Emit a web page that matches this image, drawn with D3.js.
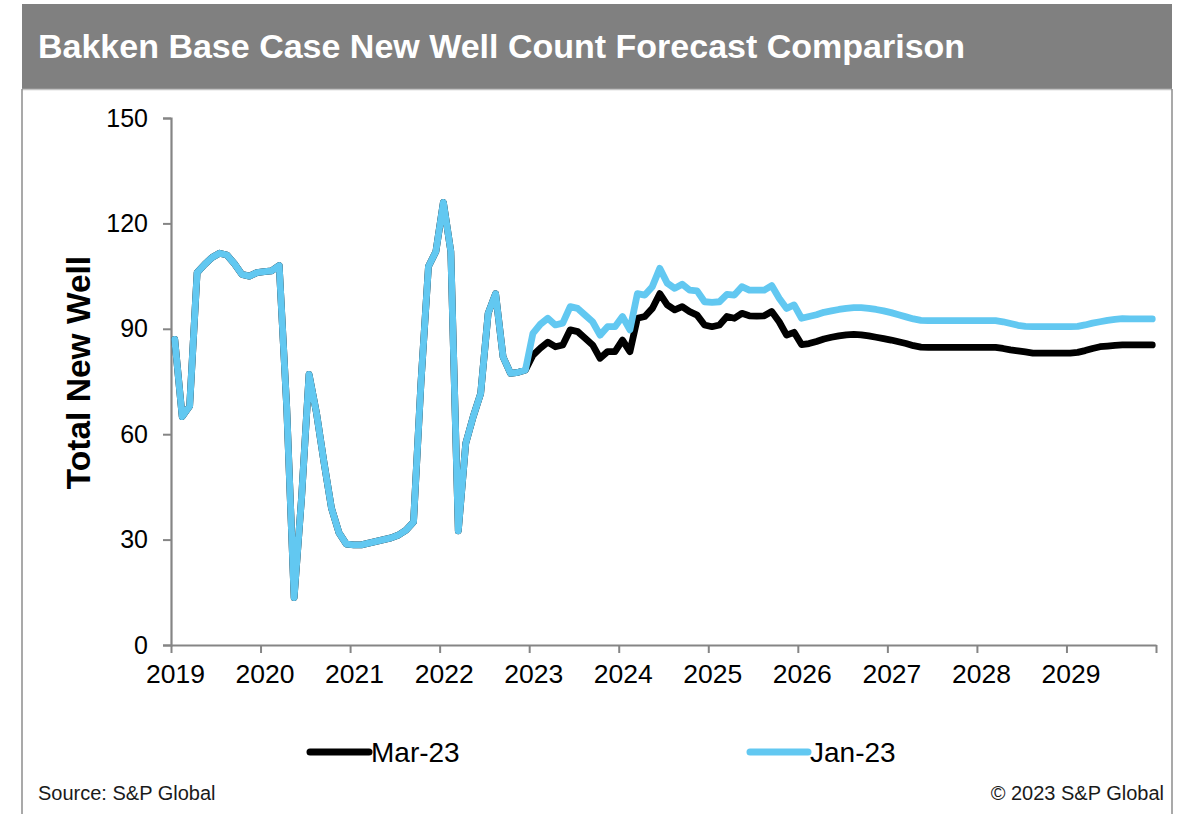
<!DOCTYPE html>
<html>
<head>
<meta charset="utf-8">
<script src="https://cdn.jsdelivr.net/npm/d3@7"></script>
<style>
  html, body { margin: 0; padding: 0; background: #ffffff; }
  svg { display: block; }
  text { font-family: "Liberation Sans", Arial, sans-serif; }
</style>
</head>
<body>
<svg id="chart" width="1193" height="814"></svg>
<script>
// Monthly new well counts, Jan 2019 through Dec 2029 (132 months).
// History (Jan 2019 – Dec 2022) is common to both forecast vintages.
const history = [
  87, 65, 68, 106, 108.3, 110.3, 111.5, 111, 108.5, 105.5, 105, 106,
  106.3, 106.5, 108, 68, 13.5, 42, 77, 66, 52, 39, 32, 28.7,
  28.5, 28.5, 29, 29.5, 30, 30.5, 31.3, 32.7, 35, 74.7, 107.7, 112,
  126, 112, 32.5, 57.4, 65, 71.6, 94.4, 100, 82, 77.3, 77.6, 78.3
];

// Jan-23 forecast, Jan 2023 – Dec 2029
const jan23Forecast = [
  88.7, 91.3, 93, 91.1, 91.6, 96.3, 95.8, 93.9, 92, 88.2, 90.6, 90.6,
  93.5, 89.7, 100, 99.6, 102, 107.2, 103, 101.5, 102.7, 101, 100.8, 97.7,
  97.5, 97.7, 99.8, 99.6, 102, 101, 101, 101, 102.3, 98.7, 95.8, 96.8,
  93, 93.5, 94, 94.7, 95.1, 95.5, 95.8, 96, 96, 95.8, 95.5, 95.1,
  94.6, 94, 93.4, 92.8, 92.4, 92.3, 92.3, 92.3, 92.3, 92.3, 92.3, 92.3,
  92.3, 92.3, 92.3, 92, 91.5, 91, 90.7, 90.6, 90.6, 90.6, 90.6, 90.6,
  90.6, 90.7, 91.1, 91.6, 92, 92.4, 92.7, 92.9, 92.8, 92.8, 92.8, 92.8
];

// Mar-23 forecast, Jan 2023 – Dec 2029
const mar23Forecast = [
  82.5, 84.5, 86.2, 84.9, 85.4, 89.7, 89.2, 87.3, 85.4, 81.6, 83.5, 83.5,
  86.8, 83.5, 93, 93.5, 95.8, 100, 96.8, 95.4, 96.3, 94.9, 93.9, 91.1,
  90.6, 91.1, 93.5, 93, 94.4, 93.7, 93.6, 93.7, 94.9, 92, 88.2, 89,
  85.5, 85.8, 86.4, 87.1, 87.6, 88, 88.3, 88.4, 88.3, 88, 87.6, 87.2,
  86.8, 86.3, 85.8, 85.2, 84.8, 84.7, 84.7, 84.7, 84.7, 84.7, 84.7, 84.7,
  84.7, 84.7, 84.7, 84.4, 84, 83.7, 83.4, 83.1, 83.1, 83.1, 83.1, 83.1,
  83.1, 83.3, 83.8, 84.4, 84.9, 85.1, 85.3, 85.4, 85.4, 85.4, 85.4, 85.4
];

const yearLabels = ["2019", "2020", "2021", "2022", "2023", "2024",
                    "2025", "2026", "2027", "2028", "2029"];
const yTicks = [0, 30, 60, 90, 120, 150];
const seriesNames = ["Mar-23", "Jan-23"];
const seriesColors = ["#000000", "#62c8f1"];

const seriesValues = [history.concat(mar23Forecast), history.concat(jan23Forecast)];
const monthCount = seriesValues[1].length;

const svg = d3.select("#chart");
const W = 1193, H = 814;

// Frame and title banner
const frame = { left: 22, right: 1172, top: 4, bannerBottom: 89 };
svg.append("rect")
  .attr("x", frame.left).attr("y", frame.top)
  .attr("width", frame.right - frame.left)
  .attr("height", frame.bannerBottom - frame.top)
  .attr("fill", "#808080");
svg.append("line")
  .attr("x1", frame.left).attr("x2", frame.right)
  .attr("y1", frame.bannerBottom + 0.5).attr("y2", frame.bannerBottom + 0.5)
  .attr("stroke", "#c4c4c4").attr("stroke-width", 1.5);
[frame.left, frame.right].forEach(x => {
  svg.append("line")
    .attr("x1", x).attr("x2", x)
    .attr("y1", frame.bannerBottom).attr("y2", H)
    .attr("stroke", "#8c8c8c").attr("stroke-width", 1.5);
});
svg.append("text")
  .attr("x", 38).attr("y", 58)
  .attr("fill", "#ffffff")
  .attr("font-size", 34).attr("font-weight", "bold")
  .text("Bakken Base Case New Well Count Forecast Comparison");

// Plot area
const plot = { left: 171, right: 1156, top: 118, bottom: 645 };
const x = d3.scaleLinear().domain([0, monthCount]).range([plot.left, plot.right]);
const y = d3.scaleLinear().domain([0, 150]).range([plot.bottom, plot.top]);

const axisColor = "#858585";

// Y axis
const yAxis = d3.axisLeft(y).tickValues(yTicks).tickSize(8).tickPadding(15)
  .tickFormat(d3.format("d"));
const gy = svg.append("g").attr("transform", `translate(${plot.left},0)`).call(yAxis);
gy.select(".domain").attr("stroke", axisColor).attr("stroke-width", 2.2);
gy.selectAll(".tick line").attr("stroke", axisColor).attr("stroke-width", 2);
gy.selectAll(".tick text").attr("font-size", 25).attr("fill", "#000")
  .attr("font-family", "Liberation Sans, Arial, sans-serif");

// X axis: a tick at every January, labelled with its year
const xTickVals = d3.range(0, monthCount + 1, 12);
const xAxis = d3.axisBottom(x).tickValues(xTickVals).tickSize(8).tickPadding(11)
  .tickSizeOuter(0)
  .tickFormat((d, i) => yearLabels[i] || "");
const gx = svg.append("g").attr("transform", `translate(0,${plot.bottom})`).call(xAxis);
gx.select(".domain").attr("stroke", axisColor).attr("stroke-width", 2.2);
gx.selectAll(".tick line").attr("stroke", axisColor).attr("stroke-width", 2);
gx.selectAll(".tick text").attr("font-size", 26.5).attr("fill", "#000")
  .attr("dx", 4)
  .attr("font-family", "Liberation Sans, Arial, sans-serif");

// Y axis title
svg.append("text")
  .attr("transform", `translate(90,${(plot.top + plot.bottom) / 2 - 9}) rotate(-90)`)
  .attr("text-anchor", "middle")
  .attr("font-size", 33.5).attr("font-weight", "bold")
  .text("Total New Well");

// Series lines (points at mid-month)
const line = d3.line()
  .x((d, i) => x(i + 0.5))
  .y(d => y(d))
  .curve(d3.curveLinear);

seriesValues.forEach((vals, k) => {
  svg.append("path")
    .datum(vals)
    .attr("fill", "none")
    .attr("stroke", seriesColors[k])
    .attr("stroke-width", 6.8)
    .attr("stroke-linejoin", "round")
    .attr("stroke-linecap", "round")
    .attr("d", line);
});

// Legend
const legendItems = [{ x0: 310, x1: 369 }, { x0: 750, x1: 808 }];
const legendY = 752;
legendItems.forEach((it, k) => {
  svg.append("line")
    .attr("x1", it.x0).attr("x2", it.x1)
    .attr("y1", legendY).attr("y2", legendY)
    .attr("stroke", seriesColors[k]).attr("stroke-width", 7)
    .attr("stroke-linecap", "round");
  svg.append("text")
    .attr("x", it.x1 + 2).attr("y", legendY + 10)
    .attr("font-size", 28)
    .text(seriesNames[k]);
});

// Footer
svg.append("text")
  .attr("x", 38).attr("y", 800)
  .attr("font-size", 20).attr("fill", "#1a1a1a")
  .text("Source: S&P Global");
svg.append("text")
  .attr("x", 1164).attr("y", 800)
  .attr("text-anchor", "end")
  .attr("font-size", 20).attr("fill", "#1a1a1a")
  .text("© 2023 S&P Global");
</script>
</body>
</html>
